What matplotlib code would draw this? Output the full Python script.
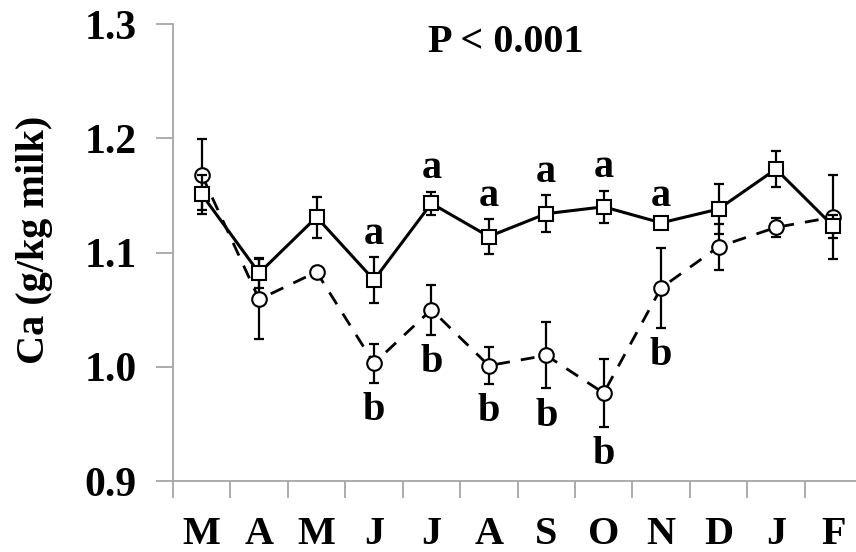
import matplotlib
matplotlib.use("Agg")
import numpy as np
from matplotlib import pyplot as plt

MONTHS = ["M", "A", "M", "J", "J", "A", "S", "O", "N", "D", "J", "F"]

# square markers, solid line
ca_solid = [1.151, 1.082, 1.131, 1.076, 1.143, 1.114, 1.134, 1.140, 1.126, 1.138, 1.173, 1.123]
err_solid = [0.017, 0.013, 0.018, 0.020, 0.010, 0.015, 0.016, 0.014, 0.003, 0.022, 0.016, 0.010]

# circle markers, dashed line
ca_dashed = [1.168, 1.059, 1.083, 1.003, 1.050, 1.001, 1.010, 0.977, 1.069, 1.105, 1.122, 1.131]
err_dashed = [0.031, 0.035, 0.004, 0.017, 0.022, 0.016, 0.029, 0.030, 0.035, 0.020, 0.008, 0.037]

# significance letters per month (None = no letter)
letters_top = [None, None, None, "a", "a", "a", "a", "a", "a", None, None, None]
letters_bottom = [None, None, None, "b", "b", "b", "b", "b", "b", None, None, None]

SERIF = ["Liberation Serif", "DejaVu Serif"]
plt.rcParams["font.family"] = SERIF
plt.rcParams["font.weight"] = "bold"

fig = plt.figure(figsize=(8.56, 5.52), dpi=100)
ax = fig.add_axes([0.2021, 0.1286, 0.805, 0.8279])

x = np.arange(len(MONTHS)) + 0.5

ax.errorbar(x, ca_dashed, yerr=err_dashed, fmt="none", ecolor="black",
            elinewidth=1.6, capsize=3.5, capthick=1.6, zorder=2)
ax.plot(x, ca_dashed, linestyle=(0, (5, 4)), color="black", linewidth=2.0,
        marker="o", markersize=10.5, markerfacecolor="white",
        markeredgecolor="black", markeredgewidth=1.5, zorder=3)

ax.errorbar(x, ca_solid, yerr=err_solid, fmt="none", ecolor="black",
            elinewidth=1.6, capsize=3.5, capthick=1.6, zorder=4)
ax.plot(x, ca_solid, linestyle="-", color="black", linewidth=2.2,
        marker="s", markersize=9.5, markerfacecolor="white",
        markeredgecolor="black", markeredgewidth=1.5, zorder=5)

for xi, v, e, lab in zip(x, ca_solid, err_solid, letters_top):
    if lab:
        ax.text(xi, v + e + 0.004, lab, ha="center", va="bottom",
                fontsize=29, fontweight="bold")

for xi, v, e, lab in zip(x, ca_dashed, err_dashed, letters_bottom):
    if lab:
        ax.text(xi, v - e - 0.008, lab, ha="center", va="top",
                fontsize=29, fontweight="bold")

ax.text(0.483, 0.96, "P < 0.001", transform=ax.transAxes, ha="center",
        va="center", fontsize=29, fontweight="bold")

ax.set_xlim(0, 12)
ax.set_ylim(0.9, 1.3)
ax.set_yticks([0.9, 1.0, 1.1, 1.2, 1.3])
ax.set_yticklabels(["0.9", "1.0", "1.1", "1.2", "1.3"])
ax.set_xticks(np.arange(0, 12))
ax.set_xticklabels([])
ax.set_xticks(x, minor=True)
ax.set_xticklabels(MONTHS, minor=True)

for s in ["top", "right"]:
    ax.spines[s].set_visible(False)
for s in ["left", "bottom"]:
    ax.spines[s].set_color("#a6a6a6")
    ax.spines[s].set_linewidth(1.3)

ax.tick_params(axis="y", which="major", length=12, width=1.3, color="#a6a6a6",
               labelsize=30, pad=14)
ax.tick_params(axis="x", which="major", length=12, width=1.3, color="#a6a6a6")
ax.tick_params(axis="x", which="minor", length=0, labelsize=29, pad=25)
for t in ax.get_yticklabels() + ax.get_xticklabels(minor=True):
    t.set_fontweight("bold")

ax.set_ylabel("Ca (g/kg milk)", fontsize=29, fontweight="bold")
ax.yaxis.set_label_coords(-0.174, 0.527)

fig.savefig("out.png", dpi=100)
